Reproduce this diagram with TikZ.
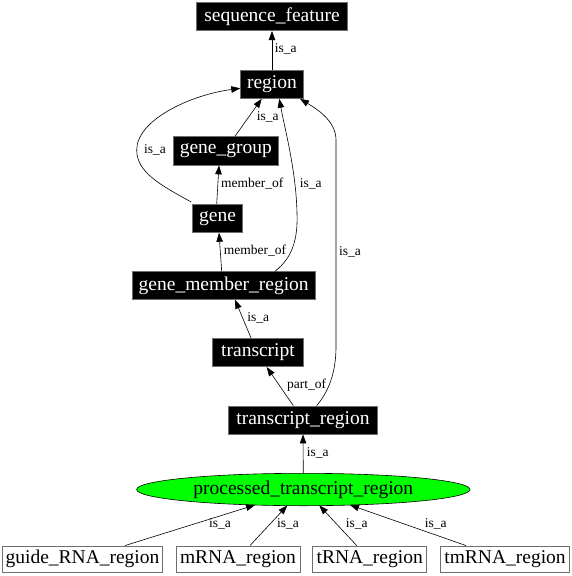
\documentclass[tikz,border=0pt]{standalone}
\usepackage{fontspec}
\setmainfont{Liberation Serif}
\usetikzlibrary{arrows.meta,shapes.geometric}
\definecolor{pgreen}{RGB}{0,255,0}
\definecolor{bordergray}{RGB}{110,110,110}
\begin{document}
\begin{tikzpicture}[x=1pt,y=-1pt,
  blackbox/.style={rectangle,fill=black,draw=bordergray,line width=0.8pt,text=white,inner sep=0pt,font=\fontsize{19.5}{20}\selectfont},
  whitebox/.style={rectangle,fill=white,draw=bordergray,line width=0.8pt,text=black,inner sep=0pt,minimum height=26.7pt,font=\fontsize{19.5}{20}\selectfont},
  greenell/.style={ellipse,fill=pgreen,draw=black,line width=0.6pt,inner sep=0pt,font=\fontsize{19.5}{20}\selectfont},
  edge/.style={draw=black,line width=0.6pt,-{Triangle[length=9pt,width=6.5pt]}},
  elabel/.style={inner sep=0pt,anchor=base,font=\fontsize{13.5}{14}\selectfont}
]
\useasboundingbox (0,0) rectangle (572,576);

% nodes
\node[blackbox,minimum width=150.6pt,minimum height=28pt] (sf) at (272,16.7) {sequence\_feature};
\node[blackbox,minimum width=62.6pt,minimum height=28.3pt] (region) at (272,84.2) {region};
\node[blackbox,minimum width=105pt,minimum height=28.3pt] (gg) at (225.8,150.8) {gene\_group};
\node[blackbox,minimum width=50.4pt,minimum height=28.3pt] (gene) at (217.5,218.2) {gene};
\node[blackbox,minimum width=182.7pt,minimum height=27.6pt] (gmr) at (223.7,285.5) {gene\_member\_region};
\node[blackbox,minimum width=90.6pt,minimum height=28.4pt] (transcript) at (258,352.5) {transcript};
\node[blackbox,minimum width=149.4pt,minimum height=28pt] (tr) at (303,420) {transcript\_region};
\node[greenell,minimum width=333.4pt,minimum height=32.4pt] (ptr) at (303.3,489.5) {processed\_transcript\_region};
\node[whitebox,minimum width=159.6pt] (guide) at (82.5,559.3) {guide\_RNA\_region};
\node[whitebox,minimum width=124pt] (mrna) at (238,559.3) {mRNA\_region};
\node[whitebox,minimum width=114pt] (trna) at (369.7,559.3) {tRNA\_region};
\node[whitebox,minimum width=128.6pt] (tmrna) at (505,559.3) {tmRNA\_region};

% edges
\draw[edge] (region.north) -- (sf.south);
\draw[edge] ([xshift=9.2pt]gg.north) -- ([xshift=-10.3pt]region.south);
\draw[edge] ([xshift=-0.8pt]gene.north) -- ([xshift=-6.8pt]gg.south);
\draw[edge] ([xshift=-0.6pt,yshift=1.7pt]gene.north west) .. controls (160,185) and (136.7,172) .. (136.7,150)
   .. controls (136.7,120) and (190,95) .. ([yshift=-4.1pt]region.west);
\draw[edge] ([xshift=-2pt]gmr.north) -- ([xshift=1.5pt]gene.south);
\draw[edge] ([xshift=51.3pt]gmr.north) .. controls (292,258) and (298,240) .. (297,213)
   .. controls (296,170) and (285,130) .. ([xshift=7.3pt]region.south);
\draw[edge] ([xshift=-7pt]transcript.north) -- ([xshift=11.3pt]gmr.south);
\draw[edge] ([xshift=-9.7pt]tr.north) -- ([xshift=8.7pt]transcript.south);
\draw[edge] ([xshift=13.7pt]tr.north) .. controls (330,390) and (336,370) .. (336,346.7)
   -- (336,140) .. controls (336,120) and (315,108) .. ([xshift=28pt]region.south);
\draw[edge] (ptr.north) -- (tr.south);
\draw[edge] ([xshift=42.5pt]guide.north) -- ([xshift=-48.3pt,yshift=-15.5pt]ptr.center);
\draw[edge] ([xshift=12pt]mrna.north) -- ([xshift=-16pt,yshift=-16pt]ptr.center);
\draw[edge] ([xshift=-13pt]trna.north) -- ([xshift=16pt,yshift=-16pt]ptr.center);
\draw[edge] ([xshift=-39pt]tmrna.north) -- ([xshift=46.7pt,yshift=-15.5pt]ptr.center);

% edge labels
\node[elabel] (l1) at (285.7,52.5) {is\_a};
\node[elabel] (l2) at (267.7,120) {is\_a};
\node[elabel] (l3) at (252.3,187) {member\_of};
\node[elabel] (l4) at (155,153.3) {is\_a};
\node[elabel] (l5) at (255,254.3) {member\_of};
\node[elabel] (l6) at (310.7,187.3) {is\_a};
\node[elabel] (l7) at (258.3,321.6) {is\_a};
\node[elabel] (l8) at (306.7,388.3) {part\_of};
\node[elabel] (l9) at (350,255) {is\_a};
\node[elabel] (l10) at (317.7,456.6) {is\_a};
\node[elabel] (l11) at (220,527.3) {is\_a};
\node[elabel] (l12) at (288,527.3) {is\_a};
\node[elabel] (l13) at (356.7,527.3) {is\_a};
\node[elabel] (l14) at (435.7,527.3) {is\_a};
\end{tikzpicture}
\end{document}
